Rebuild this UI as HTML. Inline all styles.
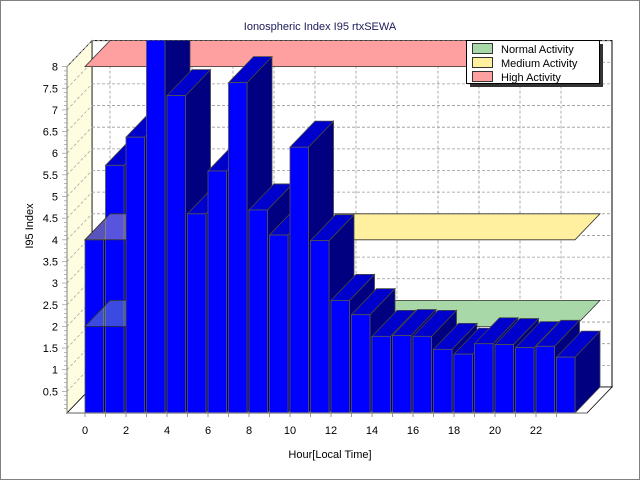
<!DOCTYPE html>
<html><head><meta charset="utf-8"><style>
html,body{margin:0;padding:0;background:#fff}
svg{display:block;font-family:"Liberation Sans",Tahoma,sans-serif}
</style></head><body>
<svg id="c" width="640" height="480" viewBox="0 0 640 480" xmlns="http://www.w3.org/2000/svg">
<rect x="0.5" y="0.5" width="639" height="479" fill="#fff" stroke="#808080"/>
<text x="320" y="30" text-anchor="middle" font-size="11" fill="#1a1a5a">Ionospheric Index I95 rtxSEWA</text>
<text transform="translate(33,226) rotate(-90)" text-anchor="middle" font-size="11" fill="#000">I95 Index</text>
<text x="330" y="458" text-anchor="middle" font-size="11" fill="#000">Hour[Local Time]</text>
<g id="plot"></g>
<g>
<rect x="470" y="44" width="133" height="43" fill="#333"/>
<rect x="466.5" y="40.5" width="133" height="43" fill="#fff" stroke="#000"/>
<g><rect x="472.5" y="43.5" width="20" height="10" fill="#a8d8a8" stroke="#333"/><text x="501" y="53" font-size="11">Normal Activity</text></g>
<g><rect x="472.5" y="57.5" width="20" height="10" fill="#fff0a0" stroke="#333"/><text x="501" y="67" font-size="11">Medium Activity</text></g>
<g><rect x="472.5" y="71.5" width="20" height="10" fill="#ffa0a0" stroke="#333"/><text x="501" y="81" font-size="11">High Activity</text></g>
</g>
</svg>
<script>
const hours = [0,1,2,3,4,5,6,7,8,9,10,11,12,13,14,15,16,17,18,19,20,21,22,23];
const values = [4.0,5.72,6.37,9.5,7.33,4.6,5.59,7.63,4.69,4.11,6.14,3.98,2.6,2.27,1.77,1.79,1.77,1.47,1.36,1.6,1.58,1.51,1.54,1.29];
const yTicks = [0.5,1,1.5,2,2.5,3,3.5,4,4.5,5,5.5,6,6.5,7,7.5,8];
const xTicks = [0,2,4,6,8,10,12,14,16,18,20,22];
const bandLevels = [2,4,8];
const bandColors = ['#a8d8a8','#fff0a0','#ffa0a0'];
const bandNames = ['normal-band','medium-band','high-band'];

const NS='http://www.w3.org/2000/svg';
const X0=67, Y0=413, UNIT=43.3, PITCH=20.5, BX0=85, BW=18.5, DX=25, DY=-26, YMAX=8;
const yS=v=>Y0-v*UNIT;
const xS=h=>BX0+h*PITCH;
const plot=document.getElementById('plot');
function mk(tag,attrs,parent){const e=document.createElementNS(NS,tag);for(const k in attrs)e.setAttribute(k,attrs[k]);(parent||plot).appendChild(e);return e;}
const pts=a=>a.map(p=>p.join(',')).join(' ');

const defs=mk('defs',{});
const cp=mk('clipPath',{id:'clip'},defs);
mk('rect',{x:0,y:yS(YMAX)+DY,width:640,height:480},cp);
const cp2=mk('clipPath',{id:'clipL'},defs);
mk('rect',{x:0,y:0,width:xS(2),height:480},cp2);

const XR=xS(24)+10;
// back wall
const wall=mk('rect',{x:X0+DX,y:yS(YMAX)+DY,width:XR-X0,height:YMAX*UNIT,fill:'#fff',stroke:'#000'});


// left wall
const lw=mk('polygon',{points:pts([[X0,yS(YMAX)],[X0+DX,yS(YMAX)+DY],[X0+DX,Y0+DY],[X0,Y0]]),fill:'#fffde0',stroke:'#000','stroke-width':0.8});


// grid
yTicks.forEach(v=>{
  const g=mk('line',{x1:X0+DX,x2:XR+DX,y1:yS(v)+DY,y2:yS(v)+DY,stroke:'#999','stroke-dasharray':'3,2','stroke-width':0.8});
  
  
  const d=mk('line',{x1:X0,y1:yS(v),x2:X0+DX,y2:yS(v)+DY,stroke:'#aaa','stroke-dasharray':'3,2','stroke-width':0.8});
  
  
});
xTicks.forEach(h=>{
  const g=mk('line',{x1:xS(h)+DX,x2:xS(h)+DX,y1:yS(YMAX)+DY,y2:Y0+DY,stroke:'#999','stroke-dasharray':'3,2','stroke-width':0.8});
  
  
});
// floor
const fl=mk('polygon',{points:pts([[X0,Y0],[XR,Y0],[XR+DX,Y0+DY],[X0+DX,Y0+DY]]),fill:'#fff',stroke:'#000','stroke-width':0.8});



function band(i,parent,op){
  const v=bandLevels[i], y=yS(v), xl=xS(0), xr=xS(24)-2;
  const p=mk('polygon',{points:pts([[xl,y],[xr,y],[xr+DX,y+DY],[xl+DX,y+DY]]),fill:bandColors[i],'fill-opacity':op,stroke:'#333','stroke-width':0.8},parent);
  
  
}
const bg=mk('g',{'clip-path':'url(#clip)'});
for(let i=0;i<bandLevels.length;i++) band(i,bg,1);

// bars
const barsG=mk('g',{'clip-path':'url(#clip)'});


hours.forEach((h,i)=>{
  const x=xS(h), y=yS(values[i]), w=BW;
  const g=mk('g',{},barsG);
  
  
  mk('polygon',{points:pts([[x+w,y],[x+w+DX,y+DY],[x+w+DX,Y0+DY],[x+w,Y0]]),fill:'#000080',stroke:'#444','stroke-width':0.8},g);
  mk('polygon',{points:pts([[x,y],[x+DX,y+DY],[x+w+DX,y+DY],[x+w,y]]),fill:'#0000cc',stroke:'#444','stroke-width':0.8},g);
  mk('rect',{x:x,y:y,width:w,height:Y0-y,fill:'#0000ff',stroke:'#555','stroke-width':0.8},g);
});
// translucent band overlay on first bars
const ov=mk('g',{'clip-path':'url(#clipL)'});
for(let i=0;i<2;i++) band(i,ov,0.35);

// axis
const ax=mk('line',{x1:X0,x2:X0,y1:yS(YMAX),y2:Y0,stroke:'#808080','stroke-width':1});


for(let k=1;k<=YMAX*10;k++){
  const len=k%5===0?5:3;
  mk('line',{x1:X0-len,x2:X0,y1:yS(k/10),y2:yS(k/10),stroke:'#999','stroke-width':0.7});
}
yTicks.forEach(v=>{
  const t=mk('text',{x:58,y:yS(v)+4,'text-anchor':'end','font-size':11,fill:'#000'});
  t.textContent=String(v);
  
  
});
const xa=mk('line',{x1:X0,x2:XR,y1:Y0,y2:Y0,stroke:'#808080','stroke-width':1.2});


hours.forEach(h=>{mk('line',{x1:xS(h),x2:xS(h),y1:Y0,y2:Y0+4,stroke:'#808080','stroke-width':0.8});});
xTicks.forEach(h=>{
  const t=mk('text',{x:xS(h),y:Y0+21,'text-anchor':'middle','font-size':11,fill:'#000'});
  t.textContent=String(h);
  
  
});
</script>
</body></html>
